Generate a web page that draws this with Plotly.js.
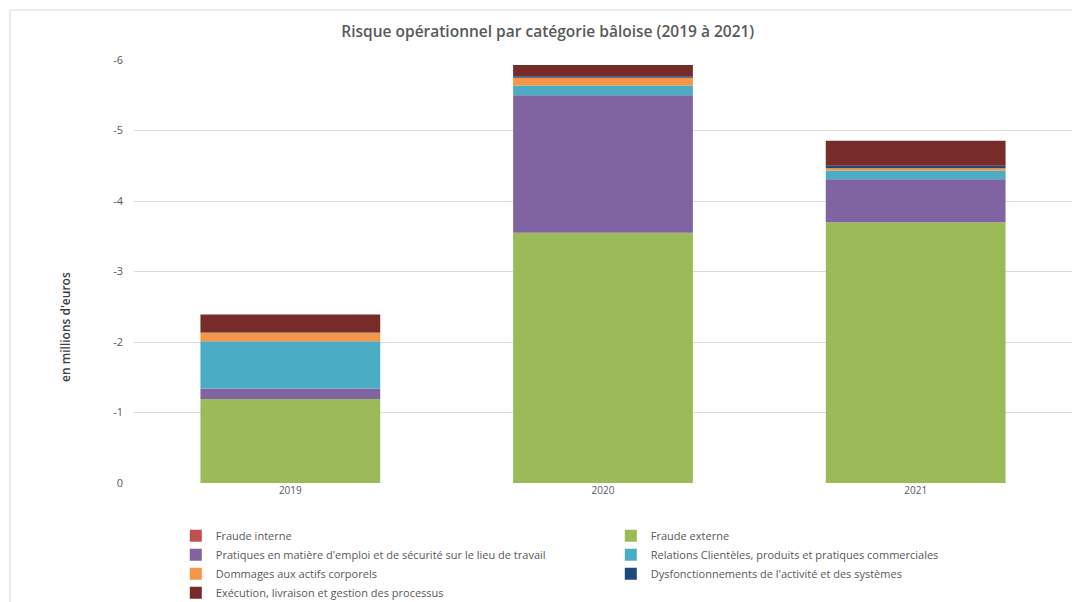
<!DOCTYPE html>
<html>
<head>
<meta charset="utf-8">
<script src="https://cdn.plot.ly/plotly-3.0.1.min.js"></script>
<style>html,body{margin:0;padding:0;background:#fff;}#chart{width:1072px;height:602px;}</style>
</head>
<body>
<div id="chart"></div>
<script>
const years = ["2019", "2020", "2021"];
const fraudeInterne = [0, 0, 0];
const fraudeExterne = [-1.19, -3.55, -3.70];
const pratiquesEmploi = [-0.15, -1.95, -0.61];
const relationsClienteles = [-0.67, -0.14, -0.12];
const dommagesActifs = [-0.12, -0.11, -0.035];
const dysfonctionnements = [-0.01, -0.02, -0.035];
const executionProcessus = [-0.25, -0.16, -0.355];
const yTicks = [0, -1, -2, -3, -4, -5, -6];

const seriesNames = [
  "Fraude interne",
  "Fraude externe",
  "Pratiques en matière d'emploi et de sécurité sur le lieu de travail",
  "Relations Clientèles, produits et pratiques commerciales",
  "Dommages aux actifs corporels",
  "Dysfonctionnements de l'activité et des systèmes",
  "Exécution, livraison et gestion des processus"
];
const seriesValues = [fraudeInterne, fraudeExterne, pratiquesEmploi, relationsClienteles, dommagesActifs, dysfonctionnements, executionProcessus];
const colors = ["#C0504D", "#9BBB59", "#8064A2", "#4BACC6", "#F79646", "#1F497D", "#772C2A"];

const traces = seriesNames.map((n, i) => ({
  type: "bar",
  name: n,
  x: years,
  y: seriesValues[i],
  marker: {color: colors[i], line: {width: 0}},
  hoverinfo: "name+y"
}));

const layout = {
  width: 1072, height: 602,
  margin: {l: 134, r: 0, t: 60, b: 119},
  paper_bgcolor: "#fff", plot_bgcolor: "#fff",
  font: {family: "Open Sans, Liberation Sans, sans-serif", color: "#595959", size: 11},
  barmode: "relative",
  bargap: 0.425,
  title: {text: "Risque opérationnel par catégorie bâloise (2019 à 2021)", x: 0.511, xanchor: "center", y: 0.947, yanchor: "middle",
          font: {size: 15.5, color: "#595959", weight: 600}},
  xaxis: {type: "category", showgrid: false, zeroline: false, showline: false, ticks: "",
          tickfont: {size: 10, color: "#595959"}},
  yaxis: {range: [0, -6], tickvals: yTicks, ticktext: yTicks.map(String), showgrid: true, gridcolor: "#D9D9D9", gridwidth: 1,
          zeroline: false, showline: false, ticks: "", ticklabelstandoff: 10,
          tickfont: {size: 11, color: "#595959"}},
  annotations: [{text: "en millions d'euros", xref: "paper", yref: "paper", x: -0.0725, y: 0.369, textangle: -90,
                 showarrow: false, xanchor: "center", yanchor: "middle", font: {size: 12, color: "#404040", weight: 600}}],
  showlegend: true,
  legend: {orientation: "h", traceorder: "normal", xref: "container", yref: "container", x: 0.164, xanchor: "left", y: 0.134, yanchor: "top",
           entrywidth: 390, entrywidthmode: "pixels", font: {size: 11, color: "#595959"}, itemclick: false},
  shapes: [{type: "rect", xref: "paper", yref: "paper", x0: -0.1322, x1: 1.2, y0: -0.6, y1: 1.118,
            line: {color: "#D9D9D9", width: 1}, fillcolor: "rgba(0,0,0,0)", layer: "below"}]
};

Plotly.newPlot("chart", traces, layout, {displayModeBar: false, staticPlot: true});
</script>
</body>
</html>
